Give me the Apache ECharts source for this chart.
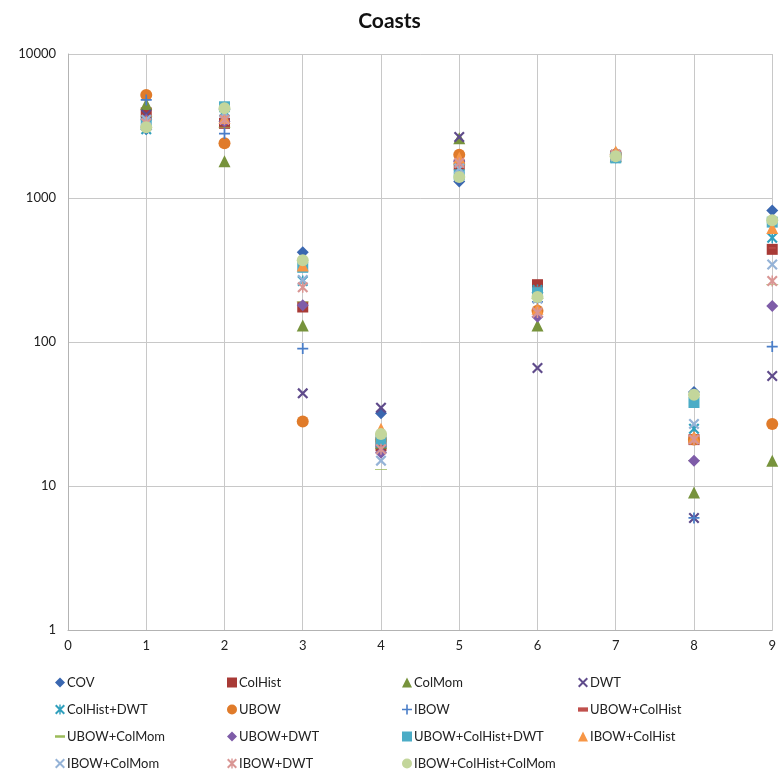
<!DOCTYPE html>
<html>
<head>
<meta charset="utf-8">
<script src="https://cdn.jsdelivr.net/npm/echarts@6/dist/echarts.min.js"></script>
<style>
  html, body { margin: 0; padding: 0; background: #fff; }
  #chart { width: 779px; height: 778px; }
</style>
</head>
<body>
<div id="chart"></div>
<script>
// Category positions on the x axis
const xPositions = [1, 2, 3, 4, 5, 6, 7, 8, 9];
const xTicks = [0, 1, 2, 3, 4, 5, 6, 7, 8, 9];
const yTicks = [1, 10, 100, 1000, 10000];

// Values per method, one per x position
const COV              = [3000, 4100, 420, 32, 1300, 220, 2050, 45, 820];
const ColHist          = [3900, 3300, 175, 19, 1700, 250, 1950, 21, 440];
const ColMom           = [4500, 1800, 130, 20, 2600, 130, 1950, 9, 15];
const DWT              = [3800, 3500, 44, 35, 2650, 66, 2000, 6, 58];
const ColHistDWT       = [3000, 4000, 265, 20, 1600, 230, 1900, 25, 530];
const UBOW             = [5200, 2400, 28, 21, 2000, 165, 2000, 21, 27];
const IBOW             = [4800, 2800, 90, 19, 1800, 190, 1950, 6, 93];
const UBOWColHist      = [3600, 3300, 180, 19, 1900, 240, 2000, 22, 450];
const UBOWColMom       = [3700, 3100, 190, 13, 1700, 200, 1950, 15, 250];
const UBOWDWT          = [3500, 3400, 180, 17, 1800, 150, 2000, 15, 178];
const UBOWColHistDWT   = [3300, 4300, 330, 21, 1450, 220, 1900, 38, 680];
const IBOWColHist      = [3400, 3600, 340, 25, 1900, 170, 2100, 22, 620];
const IBOWColMom       = [3500, 3900, 270, 15, 1600, 200, 1950, 27, 345];
const IBOWDWT          = [3300, 3500, 240, 18, 1750, 160, 2000, 21, 265];
const IBOWColHistColMom= [3100, 4200, 370, 23, 1400, 205, 1950, 43, 700];

// Marker outlines
const SYM_X = 'path://M0,1.4 L1.4,0 L10,8.6 L8.6,10 Z M8.6,0 L10,1.4 L1.4,10 L0,8.6 Z';
const SYM_PLUS = 'path://M4.2,0 H5.8 V4.2 H10 V5.8 H5.8 V10 H4.2 V5.8 H0 V4.2 H4.2 Z';
const SYM_STAR = 'path://M0,1.4 L1.4,0 L10,8.6 L8.6,10 Z M8.6,0 L10,1.4 L1.4,10 L0,8.6 Z M4.3,0 L5.7,0 L5.7,10 L4.3,10 Z';
const SYM_SHORT_DASH = 'path://M0,0 H7 V3 H0 Z';
const SYM_LONG_DASH = 'path://M0,0 H12 V3 H0 Z';

const seriesDefs = [
  { name: 'COV', data: COV, symbol: 'diamond', size: 12, color: '#3A67B0' },
  { name: 'ColHist', data: ColHist, symbol: 'rect', size: 11, color: '#A83A36' },
  { name: 'ColMom', data: ColMom, symbol: 'triangle', size: 12, color: '#77933C' },
  { name: 'DWT', data: DWT, symbol: SYM_X, size: 11, color: '#5F4B8B' },
  { name: 'ColHist+DWT', data: ColHistDWT, symbol: SYM_STAR, size: 11, color: '#31A0BD' },
  { name: 'UBOW', data: UBOW, symbol: 'circle', size: 12, color: '#E07B2A' },
  { name: 'IBOW', data: IBOW, symbol: SYM_PLUS, size: 11, color: '#4A7EC8' },
  { name: 'UBOW+ColHist', data: UBOWColHist, symbol: SYM_SHORT_DASH, size: [7, 3], color: '#C0504D' },
  { name: 'UBOW+ColMom', data: UBOWColMom, symbol: SYM_LONG_DASH, size: [12, 3], color: '#9BBB59' },
  { name: 'UBOW+DWT', data: UBOWDWT, symbol: 'diamond', size: 12, color: '#7E5CA8' },
  { name: 'UBOW+ColHist+DWT', data: UBOWColHistDWT, symbol: 'rect', size: 11, color: '#4BACC6' },
  { name: 'IBOW+ColHist', data: IBOWColHist, symbol: 'triangle', size: 12, color: '#F79646' },
  { name: 'IBOW+ColMom', data: IBOWColMom, symbol: SYM_X, size: 11, color: '#95B3D7' },
  { name: 'IBOW+DWT', data: IBOWDWT, symbol: SYM_STAR, size: 11, color: '#D99694' },
  { name: 'IBOW+ColHist+ColMom', data: IBOWColHistColMom, symbol: 'circle', size: 12, color: '#C3D69B' }
];

const legendColumns = [
  ['COV', 'ColHist+DWT', 'UBOW+ColMom', 'IBOW+ColMom'],
  ['ColHist', 'UBOW', 'UBOW+DWT', 'IBOW+DWT'],
  ['ColMom', 'IBOW', 'UBOW+ColHist+DWT', 'IBOW+ColHist+ColMom'],
  ['DWT', 'UBOW+ColHist', 'IBOW+ColHist']
];
const legendLeft = [55, 227, 402, 578];

const FONT = 'Lato, "Open Sans", sans-serif';
const symbolOf = name => seriesDefs.find(s => s.name === name).symbol;

const chart = echarts.init(document.getElementById('chart'), null, { renderer: 'canvas' });

const option = {
  animation: false,
  backgroundColor: '#fff',
  title: {
    text: 'Coasts',
    left: 'center',
    top: 6,
    textStyle: { fontFamily: FONT, fontSize: 21, fontWeight: 'bold', color: '#111' }
  },
  grid: { left: 68, right: 6, top: 54, bottom: 148, containLabel: false },
  xAxis: {
    type: 'value',
    min: 0,
    max: 9,
    interval: 1,
    axisLine: { show: true, lineStyle: { color: '#b3b3b3' } },
    axisTick: { show: false },
    splitLine: { show: true, lineStyle: { color: '#c8c8c8', width: 1 } },
    axisLabel: {
      fontFamily: FONT, fontSize: 13, color: '#222', margin: 9,
      formatter: v => xTicks.includes(v) ? String(v) : ''
    }
  },
  yAxis: {
    type: 'log',
    logBase: 10,
    min: yTicks[0],
    max: yTicks[yTicks.length - 1],
    axisLine: { show: true, lineStyle: { color: '#b3b3b3' } },
    axisTick: { show: false },
    splitLine: { show: true, lineStyle: { color: '#c8c8c8', width: 1 } },
    axisLabel: {
      fontFamily: FONT, fontSize: 13, color: '#222', margin: 12,
      formatter: v => String(Math.round(v))
    }
  },
  legend: legendColumns.map((col, i) => ({
    data: col.map(name => ({ name, icon: symbolOf(name) })),
    orient: 'vertical',
    left: legendLeft[i],
    top: 676,
    height: 100,
    itemGap: 14,
    itemWidth: 10,
    itemHeight: 10,
    padding: 0,
    symbolKeepAspect: true,
    selectedMode: false,
    textStyle: { fontFamily: FONT, fontSize: 13, color: '#222', padding: [0, 0, 0, -3] }
  })),
  series: seriesDefs.map(s => ({
    name: s.name,
    type: 'scatter',
    symbol: s.symbol,
    symbolSize: s.size,
    symbolKeepAspect: true,
    itemStyle: { color: s.color, opacity: 1 },
    data: xPositions.map((x, i) => [x, s.data[i]])
  }))
};

chart.setOption(option);
</script>
</body>
</html>
